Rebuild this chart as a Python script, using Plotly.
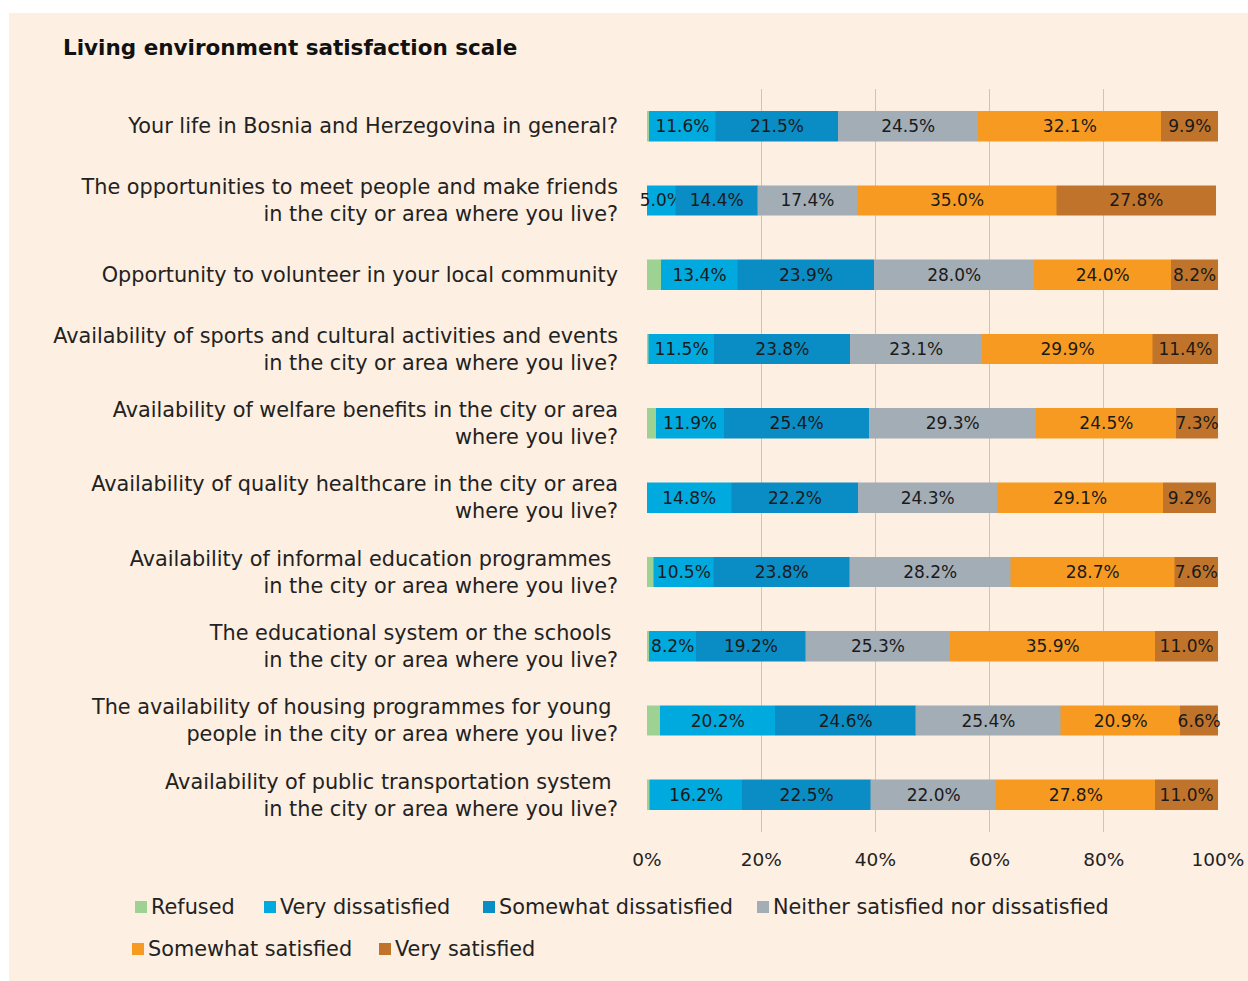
import plotly.graph_objects as go

# questions, top to bottom
questions = [
    "Your life in Bosnia and Herzegovina in general?",
    "The opportunities to meet people and make friends<br>in the city or area where you live?",
    "Opportunity to volunteer in your local community",
    "Availability of sports and cultural activities and events<br>in the city or area where you live?",
    "Availability of welfare benefits in the city or area<br>where you live?",
    "Availability of quality healthcare in the city or area<br>where you live?",
    "Availability of informal education programmes <br>in the city or area where you live?",
    "The educational system or the schools <br>in the city or area where you live?",
    "The availability of housing programmes for young <br>people in the city or area where you live?",
    "Availability of public transportation system <br>in the city or area where you live?",
]

refused = [0.4, 0.0, 2.5, 0.3, 1.6, 0.0, 1.2, 0.4, 2.3, 0.5]
very_dissatisfied = [11.6, 5.0, 13.4, 11.5, 11.9, 14.8, 10.5, 8.2, 20.2, 16.2]
somewhat_dissatisfied = [21.5, 14.4, 23.9, 23.8, 25.4, 22.2, 23.8, 19.2, 24.6, 22.5]
neither = [24.5, 17.4, 28.0, 23.1, 29.3, 24.3, 28.2, 25.3, 25.4, 22.0]
somewhat_satisfied = [32.1, 35.0, 24.0, 29.9, 24.5, 29.1, 28.7, 35.9, 20.9, 27.8]
very_satisfied = [9.9, 27.8, 8.2, 11.4, 7.3, 9.2, 7.6, 11.0, 6.6, 11.0]

series = [
    ("Refused", refused, "#9dd293", False),
    ("Very dissatisfied", very_dissatisfied, "#00aade", True),
    ("Somewhat dissatisfied", somewhat_dissatisfied, "#0a8dc4", True),
    ("Neither satisfied nor dissatisfied", neither, "#a3adb6", True),
    ("Somewhat satisfied", somewhat_satisfied, "#f79a22", True),
    ("Very satisfied", very_satisfied, "#c0742b", True),
]

# legend layout (pixel x of the swatch, row)
legend_pos = [(135, 0), (264, 0), (483, 0), (757, 0), (132, 1), (379, 1)]
legend_rows_y = [907, 949]

FONT = "DejaVu Sans"
W, H = 1248, 981
ML, MR, MT, MB = 647, 30, 89, 149
pw = W - ML - MR
ph = H - MT - MB


def px_x(px):
    return (px - ML) / pw


def px_y(py):
    return (MT + ph - py) / ph


fig = go.Figure()
for name, vals, color, labelled in series:
    fig.add_trace(go.Bar(
        y=questions, x=vals, name=name, orientation="h",
        marker=dict(color=color, line=dict(width=0.5, color=color)),
        text=[f"{v:.1f}%" for v in vals] if labelled else None,
        textposition="inside" if labelled else "none",
        insidetextanchor="middle",
        textangle=0,
        constraintext="none",
        cliponaxis=False,
        textfont=dict(family=FONT, size=17, color="#1a1a1a"),
        hoverinfo="x+name",
        showlegend=False,
    ))

# cream panel
fig.add_shape(type="rect", xref="paper", yref="paper", layer="below",
              x0=px_x(9), x1=px_x(W + 20), y0=px_y(H + 20), y1=px_y(13),
              fillcolor="#fdefe1", line=dict(width=0))

# legend: swatch + label
for (name, _, color, _), (lx, row) in zip(series, legend_pos):
    cy = legend_rows_y[row]
    fig.add_shape(type="rect", xref="paper", yref="paper",
                  x0=px_x(lx), x1=px_x(lx + 12), y0=px_y(cy + 6), y1=px_y(cy - 6),
                  fillcolor=color, line=dict(width=0))
    fig.add_annotation(text=name, xref="paper", yref="paper",
                       x=px_x(lx + 14), y=px_y(cy), xanchor="left", yanchor="middle",
                       showarrow=False,
                       font=dict(family=FONT, size=20.8, color="#222222"))

fig.update_layout(
    width=W, height=H,
    margin=dict(l=ML, r=MR, t=MT, b=MB, autoexpand=False),
    barmode="stack", bargap=0.6,
    paper_bgcolor="white", plot_bgcolor="rgba(0,0,0,0)",
    font=dict(family=FONT, color="#222222"),
    title=dict(text="<b>Living environment satisfaction scale</b>",
               x=63 / W, xanchor="left", y=1 - 47 / H, yanchor="middle",
               font=dict(family=FONT, size=21.5, color="#111111")),
    xaxis=dict(range=[0, 100], tickvals=[0, 20, 40, 60, 80, 100],
               ticktext=["0%", "20%", "40%", "60%", "80%", "100%"],
               showgrid=True, gridcolor="#c9c6c2", gridwidth=1,
               zeroline=False, showline=False, ticks="", automargin=False,
               tickfont=dict(family=FONT, size=18.5, color="#222222"),
               ticklabelstandoff=14),
    yaxis=dict(autorange="reversed", showgrid=False, ticks="", automargin=False,
               tickfont=dict(family=FONT, size=20.8, color="#222222"),
               ticklabelstandoff=28),
    showlegend=False,
)

fig.write_html("out.html", config={"displayModeBar": False},
               post_script="document.body.style.margin='0px';")
